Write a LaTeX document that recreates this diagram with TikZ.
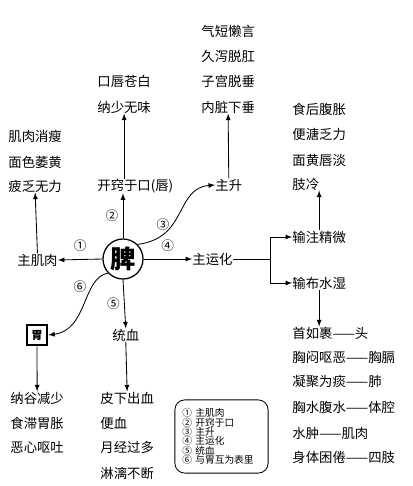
\documentclass[tikz,border=0pt]{standalone}
\usepackage{fontspec}
\setmainfont{Noto Sans CJK SC}
\tikzset{
  txt/.style={anchor=west, inner sep=0pt, font=\fontsize{9.5}{10}\selectfont},
  num/.style={inner sep=0pt, font=\fontsize{9}{10}\selectfont},
  arr/.style={->, >=latex, line width=0.6pt},
}
\begin{document}
\begin{tikzpicture}[x=0.025cm, y=-0.025cm, line width=0.6pt]
  \useasboundingbox[fill=white] (0,0) rectangle (413,486);
  %nodes
  \node[circle, draw, line width=0.9pt, minimum size=1cm, inner sep=0pt, font=\fontsize{18}{18}\selectfont\bfseries] (pi) at (123,259) {脾};
  \node[txt] (jirou) at (17,260) {主肌肉};
  \node[txt] (kaiqiao) at (97,186) {开窍于口(唇)};
  \node[txt] (zhusheng) at (215,185) {主升};
  \node[txt] (zhuyun) at (192,259) {主运化};
  \node[txt] (tongxue) at (112,335) {统血};
  \node[draw, line width=1.3pt, minimum size=0.52cm, inner sep=0pt, font=\fontsize{8}{8}\selectfont\bfseries] (wei) at (37,335) {胃};
  % upper left
  \node[txt] (jirouxs) at (8,136) {肌肉消瘦};
  \node[txt] (mianse) at (8,162) {面色萎黄};
  \node[txt] (pifa) at (8,186) {疲乏无力};
  % mouth
  \node[txt] (kouchun) at (97,81) {口唇苍白};
  \node[txt] (nashao) at (97,107) {纳少无味};
  % rising
  \node[txt] (qiduan) at (201,31) {气短懒言};
  \node[txt] (jiuxie) at (201,56) {久泻脱肛};
  \node[txt] (zigong) at (201,81) {子宫脱垂};
  \node[txt] (neizang) at (201,107) {内脏下垂};
  % transport
  \node[txt] (shihou) at (292,109) {食后腹胀};
  \node[txt] (biantang) at (292,134) {便溏乏力};
  \node[txt] (mianhuang) at (292,160) {面黄唇淡};
  \node[txt] (zhileng) at (292,184) {肢冷};
  \node[txt] (shuzhu) at (292,237) {输注精微};
  \node[txt] (shubu) at (292,283) {输布水湿};
  \node[txt] (shouru) at (292,333) {首如裹——头};
  \node[txt] (xiongmen) at (292,357) {胸闷呕恶——胸膈};
  \node[txt] (ningju) at (292,381) {凝聚为痰——肺};
  \node[txt] (xiongshui) at (292,407) {胸水腹水——体腔};
  \node[txt] (shuizhong) at (292,433) {水肿——肌肉};
  \node[txt] (shenti) at (292,457) {身体困倦——四肢};
  % blood
  \node[txt] (pixia) at (100,398) {皮下出血};
  \node[txt] (bianxue) at (100,423) {便血};
  \node[txt] (yuejing) at (100,447) {月经过多};
  \node[txt] (linli) at (100,473) {淋漓不断};
  % stomach
  \node[txt] (nagu) at (10,398) {纳谷减少};
  \node[txt] (shizhi) at (10,423) {食滞胃胀};
  \node[txt] (exin) at (10,447) {恶心呕吐};
  % legend
  \node[draw, rounded corners=7pt, line width=0.6pt, text width=1.95cm, inner xsep=0.19cm, minimum height=1.83cm, align=left, font=\fontsize{6.9}{6.6}\selectfont] (legend) at (221.5,436.5)
    {① 主肌肉\\② 开窍于口\\③ 主升\\④ 主运化\\⑤ 统血\\⑥ 与胃互为表里};
  % fork
  \coordinate (fork) at (270,259);
  \coordinate (forkup) at (270,237);
  \coordinate (forkdown) at (270,283);
  \path[arr]
    (pi.west) edge node[num, above=5pt] {①} (jirou.east)
    (pi.north) edge node[num, left=3pt] {②} (pi.north |- kaiqiao.south)
    (pi.east) edge node[num, above=5pt] {④} (zhuyun.west)
    (pi.south) edge node[num, left=3pt] {⑤} (tongxue.north)
    (jirou.north) edge (pifa.south)
    (nashao.south |- kaiqiao.north) edge (nashao.south)
    (zhusheng.north) edge (neizang.south)
    (shuzhu.north) edge (shuzhu.north |- zhileng.south)
    (shubu.south) edge (shubu.south |- shouru.north)
    (tongxue.south) edge (pixia.north)
    (wei.south) edge (nagu.north)
    (forkup) edge (shuzhu.west)
    (forkdown) edge (shubu.west);
  \draw (zhuyun.east) -- (fork);
  \draw (forkup) -- (forkdown);
  \draw[arr] (pi.45) .. controls (188,238) and (175,188) .. (zhusheng.west);
  \draw[arr] (pi.223) .. controls (82,278) and (88,330) .. (wei.east);
  \node[num] (lab3) at (163,225) {③};
  \node[num] (lab6) at (80,287) {⑥};
\end{tikzpicture}
\end{document}
